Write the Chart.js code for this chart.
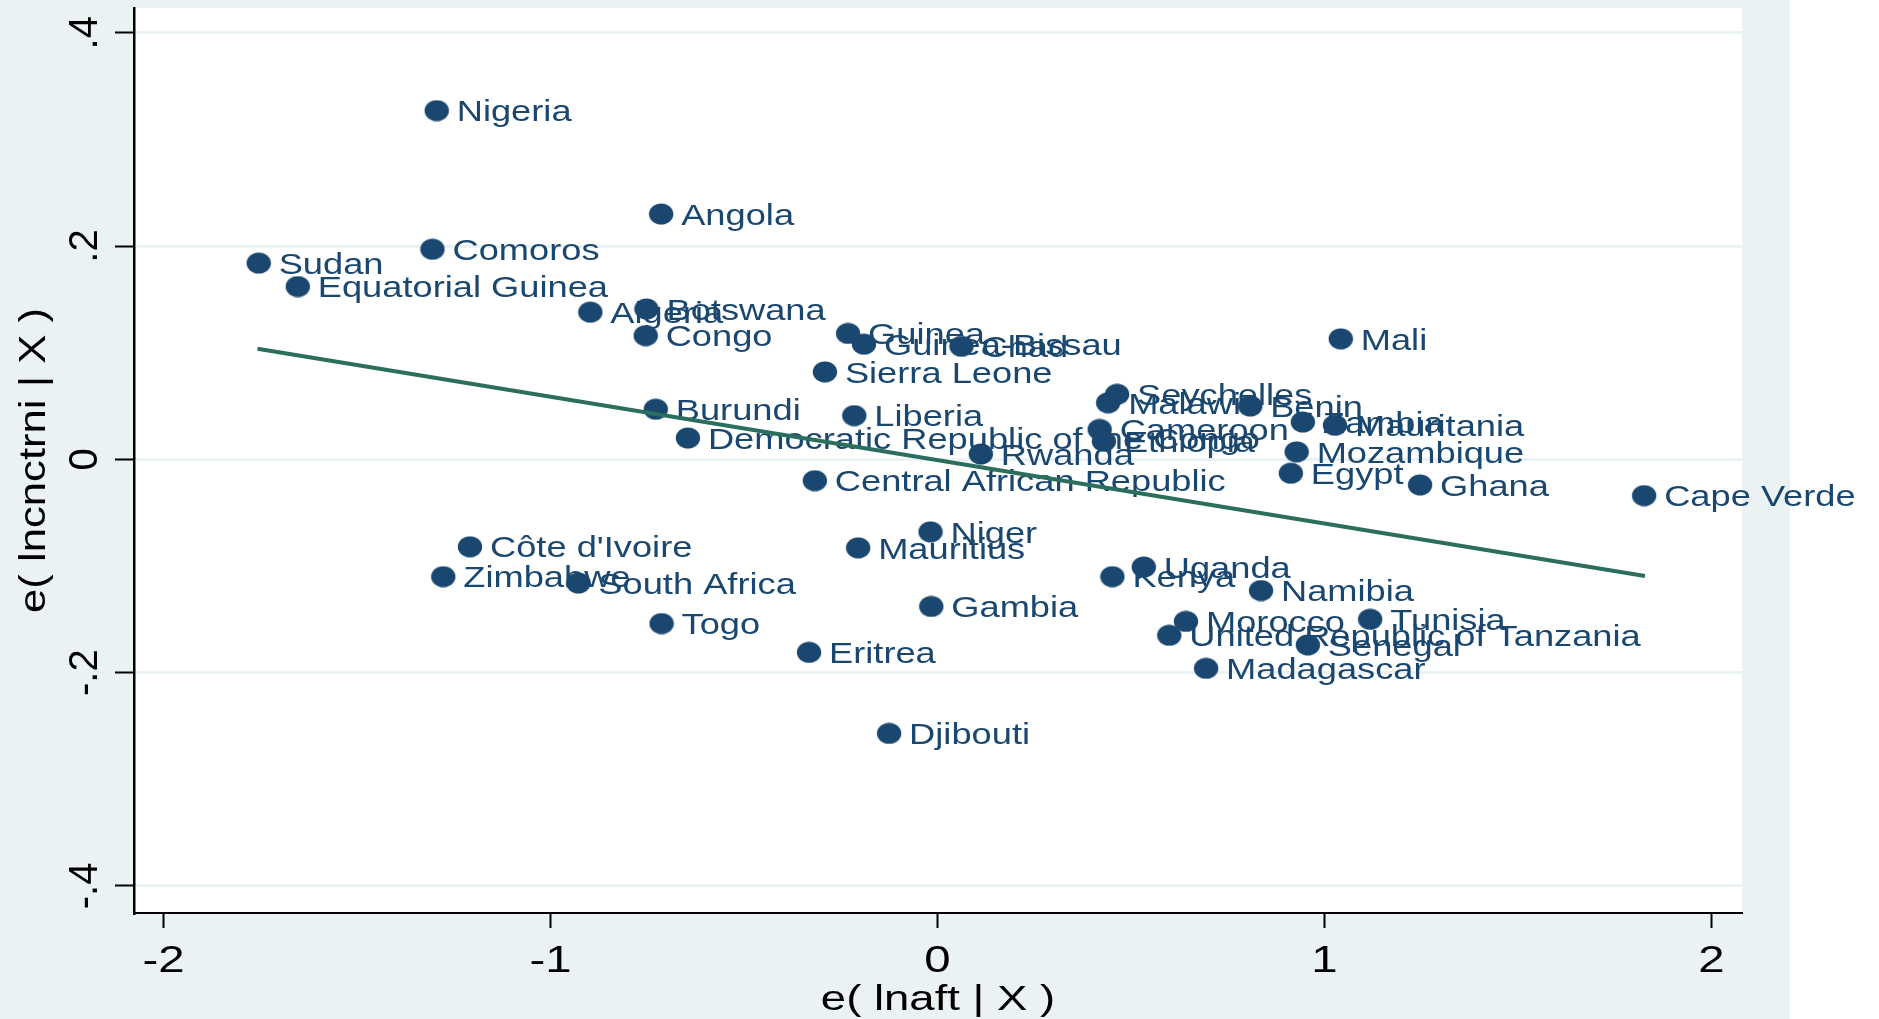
<!DOCTYPE html>
<html>
<head>
<meta charset="utf-8">
<script src="https://cdn.jsdelivr.net/npm/chart.js@4.4.1/dist/chart.umd.min.js"></script>
<style>
  html, body { margin: 0; padding: 0; background: #ffffff; overflow: hidden; }
  #wrap { width: 1879px; height: 1019px; position: relative; }
</style>
</head>
<body>
<div id="wrap"><canvas id="c"></canvas></div>
<script>
// ---------- DATA ----------
const countries = [
  "Nigeria", "Angola", "Comoros", "Sudan", "Equatorial Guinea", "Algeria", "Botswana", "Congo",
  "Guinea", "Guinea-Bissau", "Chad", "Sierra Leone", "Mali", "Burundi",
  "Democratic Republic of the Congo", "Liberia", "Rwanda", "Seychelles", "Malawi", "Benin",
  "Zambia", "Mauritania", "Cameroon", "Ethiopia", "Mozambique", "Egypt", "Ghana", "Cape Verde",
  "Central African Republic", "Côte d'Ivoire", "Zimbabwe", "South Africa", "Togo", "Eritrea",
  "Niger", "Mauritius", "Gambia", "Djibouti", "Uganda", "Kenya", "Namibia", "Morocco",
  "United Republic of Tanzania", "Tunisia", "Senegal", "Madagascar"
];
const xValues = [
  -1.294, -0.714, -1.305, -1.754, -1.653, -0.897, -0.752, -0.754,
  -0.231, -0.190, 0.062, -0.291, 1.042, -0.728,
  -0.645, -0.215, 0.112, 0.464, 0.441, 0.808,
  0.944, 1.027, 0.419, 0.430, 0.928, 0.913, 1.247, 1.826,
  -0.317, -1.208, -1.277, -0.928, -0.713, -0.332,
  -0.018, -0.205, -0.016, -0.125, 0.533, 0.452, 0.836, 0.642,
  0.599, 1.118, 0.957, 0.694
];
const yValues = [
  0.327, 0.230, 0.197, 0.184, 0.162, 0.138, 0.141, 0.116,
  0.118, 0.108, 0.106, 0.082, 0.113, 0.047,
  0.020, 0.041, 0.005, 0.061, 0.053, 0.050,
  0.035, 0.032, 0.028, 0.017, 0.007, -0.013, -0.024, -0.034,
  -0.020, -0.082, -0.110, -0.116, -0.154, -0.181,
  -0.068, -0.083, -0.138, -0.257, -0.101, -0.110, -0.123, -0.152,
  -0.165, -0.150, -0.174, -0.196
];
const fitX = [-1.757, 1.828];
const fitY = [0.1037, -0.1094];

const xTicks = [-2, -1, 0, 1, 2];
const xTickLabels = ["-2", "-1", "0", "1", "2"];
const yTicks = [-0.4, -0.2, 0, 0.2, 0.4];
const yTickLabels = ["-.4", "-.2", "0", ".2", ".4"];
const xTitle = "e( lnaft | X )";
const yTitle = "e( lncnctrni | X )";

// ---------- STYLE ----------
const NAVY = "#1a476f";
const FIT = "#2c6e5d";
const BG = "#eaf2f3";
const FONT = '"Liberation Sans", Arial, Helvetica, sans-serif';

// elliptical marker (slightly wider than tall, as in the reference)
const dot = document.createElement("canvas");
dot.width = 26; dot.height = 22;
(function () {
  const g = dot.getContext("2d");
  g.fillStyle = NAVY;
  g.beginPath();
  g.ellipse(13, 11, 12.2, 10.6, 0, 0, Math.PI * 2);
  g.fill();
})();

function drawText(ctx, txt, x, y, size, stretch, align, angle, color) {
  ctx.save();
  ctx.translate(x, y);
  if (angle) ctx.rotate(angle);
  ctx.scale(stretch, 1);
  ctx.font = size + "px " + FONT;
  ctx.fillStyle = color;
  ctx.textAlign = align;
  ctx.textBaseline = "alphabetic";
  ctx.fillText(txt, 0, 0);
  ctx.restore();
}

const backgroundPlugin = {
  id: "stataBackground",
  beforeDraw(chart) {
    const { ctx, chartArea: a } = chart;
    ctx.save();
    ctx.fillStyle = "#ffffff";
    ctx.fillRect(0, 0, chart.width, chart.height);
    ctx.fillStyle = BG;
    ctx.fillRect(0, 0, 1790, chart.height);
    ctx.fillStyle = "#ffffff";
    ctx.fillRect(a.left, a.top, a.right - a.left, a.bottom - a.top);
    ctx.restore();
  }
};

const markerLabelPlugin = {
  id: "markerLabels",
  afterDatasetDraw(chart, args) {
    if (args.index !== 0) return;
    const ctx = chart.ctx;
    args.meta.data.forEach((el, i) => {
      drawText(ctx, countries[i], el.x + 20, el.y + 10.7, 29, 1.25, "left", 0, NAVY);
    });
  }
};

const axisTextPlugin = {
  id: "axisText",
  afterDraw(chart) {
    const ctx = chart.ctx;
    const xs = chart.scales.x, ys = chart.scales.y;
    xTicks.forEach((v, i) => {
      drawText(ctx, xTickLabels[i], xs.getPixelForValue(v), 972, 37, 1.28, "center", 0, "#000");
    });
    yTicks.forEach((v, i) => {
      drawText(ctx, yTickLabels[i], 97, ys.getPixelForValue(v), 40, 1.0, "center", -Math.PI / 2, "#000");
    });
    const a = chart.chartArea;
    drawText(ctx, xTitle, (a.left + a.right) / 2, 1010, 35, 1.3, "center", 0, "#000");
    drawText(ctx, yTitle, 45, (a.top + a.bottom) / 2, 37, 1.18, "center", -Math.PI / 2, "#000");
  }
};

const points = xValues.map((x, i) => ({ x: x, y: yValues[i] }));
const fitLine = fitX.map((x, i) => ({ x: x, y: fitY[i] }));

new Chart(document.getElementById("c"), {
  type: "scatter",
  data: {
    datasets: [
      {
        label: "countries",
        data: points,
        pointStyle: dot,
        pointRadius: 12,
        order: 2
      },
      {
        type: "line",
        label: "Fitted values",
        data: fitLine,
        borderColor: FIT,
        borderWidth: 4,
        pointRadius: 0,
        fill: false,
        tension: 0,
        order: 1
      }
    ]
  },
  options: {
    responsive: true,
    maintainAspectRatio: false,
    devicePixelRatio: 1,
    animation: false,
    layout: { autoPadding: false, padding: { left: 0, top: 8, right: 137, bottom: 0 } },
    plugins: { legend: { display: false }, tooltip: { enabled: false } },
    scales: {
      x: {
        type: "linear",
        min: -2.0762,
        max: 2.0788,
        afterBuildTicks(s) { s.ticks = xTicks.map(v => ({ value: v })); },
        afterFit(s) { s.height = 106; },
        ticks: { display: false },
        grid: {
          drawOnChartArea: false,
          drawTicks: true,
          tickLength: 15,
          tickColor: "#000",
          tickWidth: 2
        },
        border: { display: true, color: "#000", width: 2 }
      },
      y: {
        type: "linear",
        min: -0.4254,
        max: 0.4232,
        afterBuildTicks(s) { s.ticks = yTicks.map(v => ({ value: v })); },
        afterFit(s) { s.width = 134; },
        ticks: { display: false },
        grid: {
          color: BG,
          lineWidth: 3,
          drawTicks: true,
          tickLength: 19,
          tickColor: "#000",
          tickWidth: 2
        },
        border: { display: true, color: "#000", width: 2.5 }
      }
    }
  },
  plugins: [backgroundPlugin, markerLabelPlugin, axisTextPlugin]
});
</script>
</body>
</html>
